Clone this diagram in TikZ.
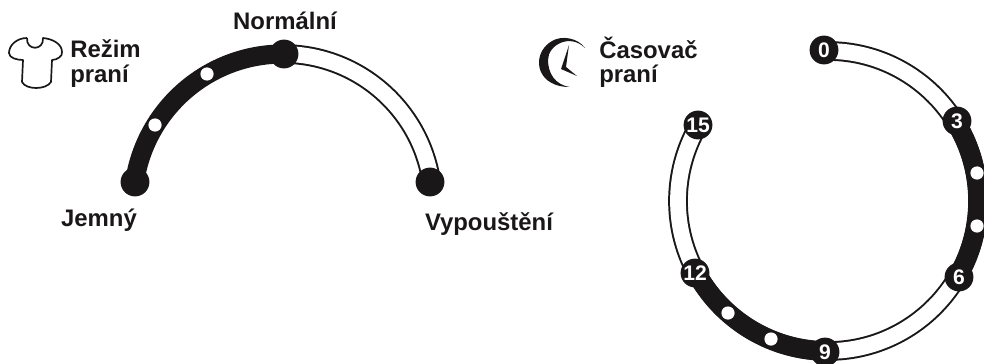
\documentclass[tikz,border=0pt]{standalone}
\usepackage{fontspec}
\setmainfont{Liberation Sans}
\definecolor{inkblack}{HTML}{1A1718}
\tikzset{
  fullband/.style={inkblack,line width=13.6pt},
  outerband/.style={inkblack,line width=14pt},
  innerband/.style={white,line width=11.2pt},
  bigdot/.style={circle,fill=inkblack,minimum size=0.72cm,inner sep=0pt},
  numdot/.style={bigdot,text=white,font=\fontsize{15}{15}\selectfont\bfseries},
  smalldot/.style={circle,fill=white,minimum size=0.33cm,inner sep=0pt},
  caption/.style={inkblack,font=\fontsize{17}{17.7}\selectfont\bfseries,align=left,inner sep=0pt},
}
\begin{document}
\begin{tikzpicture}[x=0.025cm,y=0.025cm]
  \useasboundingbox (0,0) rectangle (984,363);
  \coordinate (mode) at (283,159);
  \coordinate (timer) at (828,162);
  % mode dial
  \draw[outerband] ([shift={(90:150)}]mode) arc[start angle=90,end angle=8.5,radius=150];
  \draw[innerband] ([shift={(90:150)}]mode) arc[start angle=90,end angle=8.5,radius=150];
  \draw[fullband] ([shift={(171.5:150)}]mode) arc[start angle=171.5,end angle=90,radius=150];
  \node[bigdot] (jemny) at (135,181) {};
  \node[bigdot] (normalni) at (284,309) {};
  \node[bigdot] (vypousteni) at (430,181) {};
  \node[smalldot] (modea) at (155,238) {};
  \node[smalldot] (modeb) at (207,289) {};
  % timer dial
  \draw[outerband] ([shift={(90:150)}]timer) arc[start angle=90,end angle=-210,radius=150];
  \draw[innerband] ([shift={(90:150)}]timer) arc[start angle=90,end angle=-210,radius=150];
  \draw[fullband] ([shift={(31:150)}]timer) arc[start angle=31,end angle=-30,radius=150];
  \draw[fullband] ([shift={(-90:150)}]timer) arc[start angle=-90,end angle=-152,radius=150];
  \node[numdot] (n0) at (824,313) {0};
  \node[numdot] (n3) at (957,242) {3};
  \node[numdot] (n6) at (959,86) {6};
  \node[numdot] (n9) at (825,11) {9};
  \node[numdot] (n12) at (695,90) {12};
  \node[numdot] (n15) at (698,238) {15};
  \foreach \px/\py [count=\i] in {977/190,977/137,771/24,728/50}
    \node[smalldot] (timer\i) at (\px,\py) {};
  % icons
  \draw[inkblack,line width=1.2pt,line join=round] (27,325) .. controls (17,325) and (9,318) .. (9,310)
    .. controls (9,305) and (17,303) .. (23,303) -- (22,281)
    .. controls (26,273) and (46,273) .. (51,281) -- (52,303)
    .. controls (57,303) and (63,307) .. (62,311) .. controls (62,319) and (53,324) .. (43,325)
    .. controls (44,312) and (26,312) .. (27,325);
  \fill[inkblack] (585,315) .. controls (578,325) and (562,328) .. (552,322)
    .. controls (535,312) and (535,290) .. (550,281) .. controls (556,277) and (563,276) .. (570,276)
    .. controls (555,278) and (548,290) .. (548,303) .. controls (548,318) and (570,330) .. (585,315) -- cycle;
  \fill[inkblack] (569,318) -- (561,294) -- (577,287) -- (566,296) -- cycle;
  % captions
  \node[caption,anchor=base west] (rezim) at (70,281) {Režim\\praní};
  \node[caption,anchor=base] (tnorm) at (285,333) {Normální};
  \node[caption,anchor=base] (tjem) at (99,137) {Jemný};
  \node[caption,anchor=base] (tvyp) at (489,133) {Vypouštění};
  \node[caption,anchor=base west] (casovac) at (599,280) {Časovač\\praní};
\end{tikzpicture}
\end{document}
